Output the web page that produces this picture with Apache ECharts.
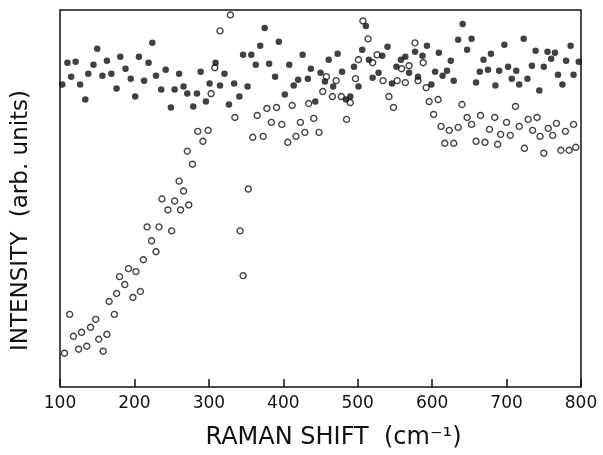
<!DOCTYPE html>
<html>
<head>
<meta charset="utf-8">
<script src="https://cdn.jsdelivr.net/npm/echarts@6/dist/echarts.min.js"></script>
<style>
html,body{margin:0;padding:0;background:#fff;}
#chart{width:603px;height:455px;}
</style>
</head>
<body>
<div id="chart"></div>
<script>
// Raman shift (cm^-1) and intensity (arb. units)
var filledX = [103,110,115,121,127,134,138,145,150,157,163,169,176,181,188,195,201,206,213,219,224,229,236,242,249,254,260,266,271,279,284,289,296,301,309,315,321,327,
334,341,346,352,357,363,369,375,381,389,394,402,408,414,420,426,433,437,443,450,456,461,467,473,479,484,490,495,501,506,511,515,520,528,533,540,546,552,558,564,569,
577,581,587,593,599,604,609,614,620,625,629,635,641,647,653,659,664,669,675,679,685,690,697,702,707,713,717,723,728,734,739,744,750,755,760,765,769,775,780,786,790,797];
var filledY = [304,326,312,327,304,289,315,324,340,313,328,315,300,332,320,310,292,332,308,326,346,313,299,319,281,299,315,302,295,282,295,317,287,305,326,303,315,284,
305,292,334,302,334,324,343,361,325,312,347,294,324,303,309,334,310,320,287,316,307,329,302,335,317,289,292,322,302,339,363,329,311,316,333,342,305,322,329,332,316,
337,312,333,343,304,317,336,313,318,328,308,349,365,339,350,306,317,329,319,335,303,318,344,322,310,318,304,350,310,323,338,298,322,337,330,336,314,304,328,343,314,327];
var openX = [106,113,118,125,129,136,141,148,152,158,163,166,173,176,180,187,192,198,202,208,212,217,223,229,233,237,245,250,254,260,262,266,271,273,278,285,292,299,303,308,315,329,
335,342,346,353,359,365,373,378,384,391,398,406,412,417,423,429,434,441,448,453,458,466,471,478,485,490,497,501,507,514,520,526,534,542,548,553,559,564,569,
577,581,588,592,596,602,608,612,617,623,629,635,640,647,653,659,665,671,677,684,688,692,700,705,712,717,724,729,735,741,745,750,756,762,767,773,779,784,790,793];
var openY = [34,73,51,38,55,41,60,68,48,36,53,86,73,94,111,103,119,90,116,96,128,161,147,136,161,189,178,157,187,207,178,197,237,183,224,257,247,258,295,321,358,374,
271,157,112,199,251,273,252,280,266,281,264,246,283,252,266,256,285,270,256,297,312,292,308,292,269,286,310,329,368,350,326,334,308,292,281,308,320,306,323,
346,308,326,301,287,274,289,262,245,258,245,261,284,271,264,247,273,246,259,271,244,254,266,253,282,262,240,269,258,271,252,235,260,253,265,238,257,238,264,241];
var xTicks = [100,200,300,400,500,600,700,800];
var xTitle = 'RAMAN SHIFT  (cm\u207B\u00B9)';
var yTitle = 'INTENSITY  (arb. units)';

function pairs(xs, ys){ return xs.map(function(x,i){ return [x, ys[i]]; }); }

var FONT = 'DejaVu Sans';
var chart = echarts.init(document.getElementById('chart'), null, {renderer:'canvas'});
chart.setOption({
  animation:false,
  backgroundColor:'#fff',
  grid:{left:60, right:22, top:10, bottom:66, show:true, borderColor:'#111', borderWidth:1.5, backgroundColor:'transparent'},
  xAxis:{
    type:'value', min:xTicks[0], max:xTicks[xTicks.length-1], interval:100,
    axisLine:{show:false},
    axisTick:{show:true, inside:true, length:8, lineStyle:{color:'#111', width:1.5}},
    splitLine:{show:false},
    axisLabel:{color:'#111', fontSize:17, fontFamily:FONT, margin:8,
      formatter:function(v){ return xTicks.indexOf(v)>=0 ? String(v) : ''; }},
    name:xTitle, nameLocation:'middle', nameGap:39,
    nameTextStyle:{color:'#111', fontSize:24, fontFamily:FONT, padding:[0,0,0,26]}
  },
  yAxis:{
    type:'value', min:0, max:379,
    axisLine:{show:false}, axisTick:{show:false}, axisLabel:{show:false}, splitLine:{show:false},
    name:yTitle, nameLocation:'middle', nameGap:27, nameRotate:90,
    nameTextStyle:{color:'#111', fontSize:23, fontFamily:FONT, padding:[0,44,0,0]}
  },
  series:[
    {type:'scatter', data:pairs(openX, openY), symbol:'circle', symbolSize:6,
     itemStyle:{color:'#fff', borderColor:'#111', borderWidth:1.4}, z:2},
    {type:'scatter', data:pairs(filledX, filledY), symbol:'circle', symbolSize:6.5,
     itemStyle:{color:'#111'}, z:3}
  ]
});
</script>
</body>
</html>
